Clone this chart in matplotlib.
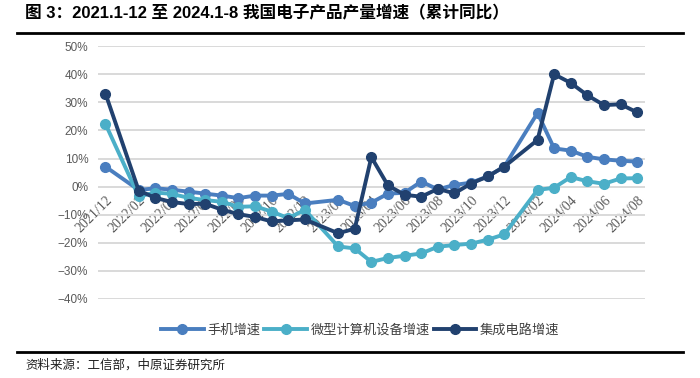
'''Production growth of electronic products, 2021/12 - 2024/08'''
import numpy as np
import matplotlib.pyplot as plt
from matplotlib.lines import Line2D
from matplotlib.ticker import FuncFormatter

plt.rcParams['font.family'] = ['Liberation Sans', 'Noto Sans CJK SC']
plt.rcParams['axes.unicode_minus'] = True

# Jan is merged with Feb in the monthly statistics, so Jan is missing
dates = ['2021/12',
         '2022/02', '2022/03', '2022/04', '2022/05', '2022/06', '2022/07',
         '2022/08', '2022/09', '2022/10', '2022/11', '2022/12',
         '2023/02', '2023/03', '2023/04', '2023/05', '2023/06', '2023/07',
         '2023/08', '2023/09', '2023/10', '2023/11', '2023/12',
         '2024/02', '2024/03', '2024/04', '2024/05', '2024/06', '2024/07',
         '2024/08']

phone = [7.1,
         -1.2, -0.6, -1.1, -1.8, -2.5, -3.2, -4.1, -3.2, -3.2, -2.6, -6.0,
         -4.7, -6.9, -5.7, -2.5, -2.2, 1.8, -1.0, 0.6, 1.4, 3.6, 7.1,
         26.2, 13.6, 12.8, 10.6, 9.7, 9.2, 8.9]
pc = [22.3,
      -3.5, -2.1, -2.6, -4.0, -4.8, -5.4, -7.2, -7.0, -8.9, -11.2, -8.3,
      -21.3, -22.0, -26.8, -25.4, -24.6, -23.8, -21.4, -20.8, -20.3, -18.9, -17.0,
      -1.2, -0.4, 3.4, 1.9, 1.0, 2.9, 3.0]
ic = [33.1,
      -1.4, -4.0, -5.5, -6.2, -6.1, -8.2, -9.8, -10.8, -12.4, -12.0, -11.7,
      -16.6, -15.0, 10.5, 0.4, -2.9, -3.6, -0.8, -2.4, 1.1, 3.6, 7.1,
      16.6, 40.0, 36.9, 32.5, 29.0, 29.3, 26.4]

names = ['手机增速', '微型计算机设备增速', '集成电路增速']
colors = ['#4a7ebf', '#4bafc8', '#21416f']

title = '图 3：2021.1-12 至 2024.1-8 我国电子产品产量增速（累计同比）'
source = '资料来源：工信部，中原证券研究所'

# month offset from 2021/12 -> date axis with gaps
x = np.array([(int(d[:4]) - 2021) * 12 + int(d[5:]) - 12 for d in dates])
tick_x = np.arange(0, x.max() + 1, 2)
tick_labels = []
for t in tick_x:
    m = 12 + t
    tick_labels.append(f'{2021 + (m - 1) // 12}/{(m - 1) % 12 + 1:02d}')

fig = plt.figure(figsize=(7, 3.78), dpi=100)
ax = fig.add_axes([0.14, 0.209, 0.781, 0.669])

for vals, name, c in zip([phone, pc, ic], names, colors):
    ax.plot(x, vals, color=c, lw=2.8, marker='o', ms=7, label=name,
            solid_joinstyle='round')

ax.set_xlim(-0.45, x.max() + 0.45)
ax.set_ylim(-40, 50)
ax.set_yticks(np.arange(-40, 51, 10))
ax.yaxis.set_major_formatter(FuncFormatter(lambda v, p: f'{v:.0f}%'.replace('-', '\u2212')))
ax.grid(axis='y', color='#d9d9d9', lw=1.4)
ax.set_axisbelow(True)

ax.spines['bottom'].set_position(('data', 0))
for s in ['top', 'right', 'left', 'bottom']:
    ax.spines[s].set_visible(False)

ax.set_xticks(tick_x)
ax.set_xticklabels(tick_labels, rotation=45, ha='right', va='top',
                   rotation_mode='anchor', family='Liberation Serif',
                   fontsize=10, color='#5a5a5a')
ax.tick_params(axis='x', length=0, pad=5)
ax.tick_params(axis='y', length=0, pad=7, labelsize=8.5, labelcolor='#5a5a5a')

ax.legend(loc='upper center', bbox_to_anchor=(0.48, -0.05), ncol=3, frameon=False,
          fontsize=9.5, handlelength=3.2, columnspacing=0.3, handletextpad=0.3,
          labelcolor='#404040')

fig.text(0.036, 0.966, title, fontsize=12, fontweight='bold', va='center')
fig.add_artist(Line2D([0.024, 0.976], [0.912, 0.912], color='black', lw=2))
fig.add_artist(Line2D([0.024, 0.976], [0.069, 0.069], color='black', lw=2))
fig.text(0.036, 0.034, source, fontsize=9, va='center', color='#202020')

plt.savefig('out.png')
